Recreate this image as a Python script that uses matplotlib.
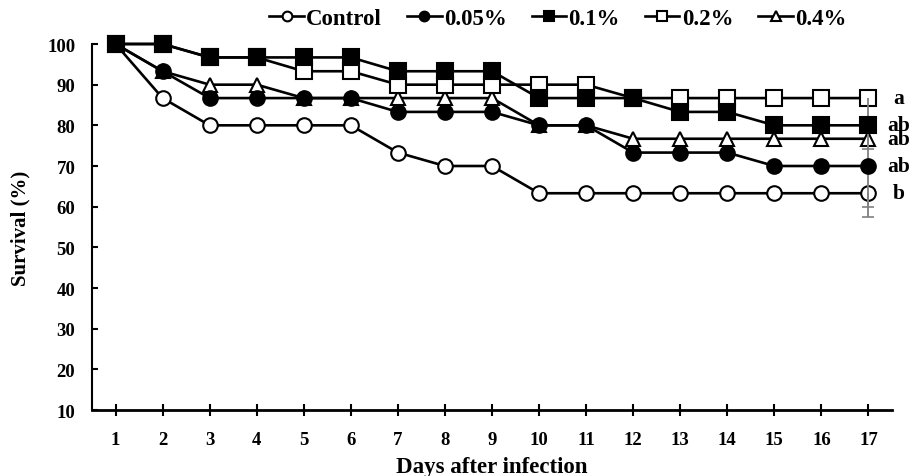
import matplotlib
matplotlib.use("Agg")
import matplotlib.pyplot as plt

days = list(range(1, 18))
control = [100, 86.7, 80, 80, 80, 80, 73.3, 70, 70, 63.3, 63.3, 63.3, 63.3, 63.3, 63.3, 63.3, 63.3]
p005 = [100, 93.3, 86.7, 86.7, 86.7, 86.7, 83.3, 83.3, 83.3, 80, 80, 73.3, 73.3, 73.3, 70, 70, 70]
p01 = [100, 100, 96.7, 96.7, 96.7, 96.7, 93.3, 93.3, 93.3, 86.7, 86.7, 86.7, 83.3, 83.3, 80, 80, 80]
p02 = [100, 100, 96.7, 96.7, 93.3, 93.3, 90, 90, 90, 90, 90, 86.7, 86.7, 86.7, 86.7, 86.7, 86.7]
p04 = [100, 93.3, 90, 90, 86.7, 86.7, 86.7, 86.7, 86.7, 80, 80, 76.7, 76.7, 76.7, 76.7, 76.7, 76.7]
labels = ["Control", "0.05%", "0.1%", "0.2%", "0.4%"]
end_err = [5.8, 10, 5.8, 6.7, 5.8]
letters = ["b", "ab", "ab", "a", "ab"]
yticks = [10, 20, 30, 40, 50, 60, 70, 80, 90, 100]

plt.rcParams['font.family'] = ['Liberation Serif', 'DejaVu Serif']
plt.rcParams['font.weight'] = 'bold'

fig = plt.figure(figsize=(9.12, 4.77), dpi=100)
ax = fig.add_axes([92/912, 1-411/477, 800/912, (411-45)/477])

series = [control, p005, p01, p02, p04]
styles = [("o", "white", 10.5, 3), ("o", "black", 10.5, 6), ("s", "black", 11, 7),
          ("s", "white", 11, 4), ("^", "white", 10.5, 2)]
handles = [None] * 5
for i, (vals, (m, fc, ms, z), lab, err) in enumerate(zip(series, styles, labels, end_err)):
    x_end = days[-1]
    lo = vals[-1] - err
    ax.vlines(x_end, lo, vals[-1], colors='#808080', linewidth=1.3, zorder=5, clip_on=False)
    ax.plot([x_end], [lo], marker='_', markersize=8, markeredgewidth=1.2,
            color='#808080', zorder=5, clip_on=False)
    h, = ax.plot(days, vals, marker=m, markerfacecolor=fc, markeredgecolor='black',
                 markeredgewidth=1.5, color='black', linewidth=1.9, markersize=ms,
                 label=lab, clip_on=False, zorder=z)
    handles[i] = h

for vals, let in zip(series, letters):
    ax.text(17.64, vals[-1], let, fontsize=15.5, fontweight='bold', va='center', ha='center')

ax.set_xlim(0.5, 17.5)
ax.set_ylim(10, 100)
ax.set_xticks(days)
ax.set_yticks(yticks)
ax.tick_params(axis='x', direction='inout', length=8, width=1.5, labelsize=13.5, pad=11)
ax.tick_params(axis='y', direction='in', length=4.5, width=1.5, labelsize=13.5, pad=12)
for lbl in ax.get_xticklabels() + ax.get_yticklabels():
    lbl.set_fontweight('bold')
for s in ['top', 'right']:
    ax.spines[s].set_visible(False)
ax.spines['left'].set_linewidth(1.5)
ax.spines['bottom'].set_linewidth(2)

ax.set_xlabel("Days after infection", fontsize=16.5, fontweight='bold', labelpad=6)
ax.set_ylabel("Survival (%)", fontsize=15, fontweight='bold', labelpad=12)

leg_handles = []
for (m, fc, ms, z) in styles:
    lh, = ax.plot([], [], marker=m, markerfacecolor=fc, markeredgecolor='black',
                  markeredgewidth=1.5, color='black', linewidth=1.9, markersize=7)
    leg_handles.append(lh)
fig.legend(handles=leg_handles, labels=labels, loc='center', bbox_to_anchor=(558/912, 1-19/477),
           ncol=5, frameon=False, fontsize=16.5, handlelength=1.5, handletextpad=0.1,
           columnspacing=1.1)

fig.savefig("out.png", dpi=100)
